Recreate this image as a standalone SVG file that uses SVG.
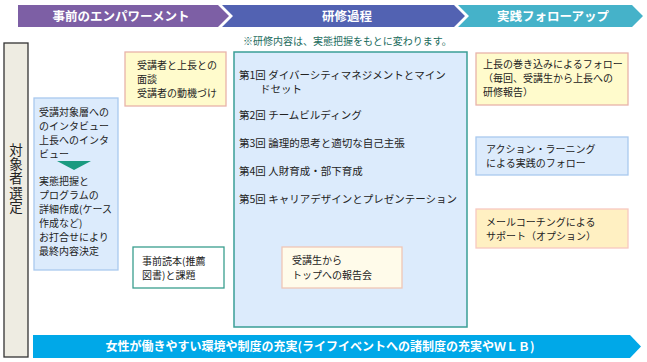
<svg xmlns="http://www.w3.org/2000/svg" width="647" height="362" viewBox="0 0 647 362">
<style>
text{font-family:"Noto Sans CJK JP","Noto Sans CJK SC",sans-serif;fill:#222;}
.hd{font-size:12.5px;font-weight:bold;fill:#fff;text-anchor:middle;}
.b{font-size:10.5px;}
.s{font-size:10px;}
.note{font-size:10px;fill:#1a6b5c;}
.yel{fill:#fffbcc;stroke:#e9b3aa;stroke-width:1.3;}
.blu{fill:#dcebfc;stroke:#a9c9ef;stroke-width:1.3;}
</style>
<rect width="647" height="362" fill="#fff"/>
<g id="header">
<polygon points="18,5 218,5 229,16 218,27 18,27" fill="#7d5fa5"/>
<polygon points="222,5 454,5 465,16 454,27 222,27 233,16" fill="#5262b2"/>
<polygon points="458,5 632,5 643,16 632,27 458,27 469,16" fill="#45b2c9"/>
<text class="hd" x="121" y="20.5">事前のエンパワーメント</text>
<text class="hd" x="347" y="20.5">研修過程</text>
<text class="hd" x="553" y="20.5">実践フォローアップ</text>
</g>
<text class="note" x="243" y="44.5">※研修内容は、実態把握をもとに変わります。</text>
<g id="target">
<rect x="4" y="43" width="24" height="314" fill="#eeece2" stroke="#333" stroke-width="1.3"/>
<text x="16" y="143" style="font-size:13.5px;writing-mode:vertical-rl;letter-spacing:0.8px">対象者選定</text>
</g>
<g id="survey">
<rect class="blu" x="34" y="98" width="84" height="172"/>
<text class="s" x="39" y="116">受講対象層への</text>
<text class="s" x="39" y="130">のインタビュー</text>
<text class="s" x="39" y="144">上長へのインタ</text>
<text class="s" x="39" y="158">ビュー</text>
<polygon points="57,161 91,161 74,170" fill="#1a9a80"/>
<text class="s" x="39" y="185">実態把握と</text>
<text class="s" x="39" y="199">プログラムの</text>
<text class="s" x="39" y="213">詳細作成(ケース</text>
<text class="s" x="39" y="227">作成など)</text>
<text class="s" x="39" y="241">お打合せにより</text>
<text class="s" x="39" y="255">最終内容決定</text>
</g>
<g id="interview">
<rect class="yel" x="125" y="52" width="101" height="54"/>
<text class="s" x="137" y="69">受講者と上長との</text>
<text class="s" x="137" y="83">面談</text>
<text class="s" x="137" y="97">受講者の動機づけ</text>
</g>
<g id="reading">
<rect x="133" y="247" width="91" height="41" fill="#fff" stroke="#3a9e8e" stroke-width="1.3"/>
<text class="s" x="142" y="265">事前読本(推薦</text>
<text class="s" x="142" y="279">図書)と課題</text>
</g>
<g id="training">
<rect x="234" y="52" width="233" height="275" fill="#dcebfc" stroke="#3a9e96" stroke-width="1.5"/>
<text class="b" x="239" y="79">第1回 ダイバーシティマネジメントとマイン</text>
<text class="b" x="260" y="93">ドセット</text>
<text class="b" x="239" y="119">第2回 チームビルディング</text>
<text class="b" x="239" y="147">第3回 論理的思考と適切な自己主張</text>
<text class="b" x="239" y="175">第4回 人財育成・部下育成</text>
<text class="b" x="239" y="203">第5回 キャリアデザインとプレゼンテーション</text>
</g>
<g id="report">
<rect x="282" y="247" width="120" height="41" fill="#fffbea" stroke="#f0c6b6" stroke-width="1.3"/>
<text class="s" x="292" y="264">受講生から</text>
<text class="s" x="292" y="279">トップへの報告会</text>
</g>
<g id="follow1">
<rect class="yel" x="476" y="53" width="152" height="52"/>
<text class="s" x="483" y="68">上長の巻き込みによるフォロー</text>
<text class="s" x="483" y="82">（毎回、受講生から上長への</text>
<text class="s" x="483" y="96">研修報告）</text>
</g>
<g id="follow2">
<rect class="blu" x="476" y="137" width="152" height="38"/>
<text class="s" x="486" y="153">アクション・ラーニング</text>
<text class="s" x="486" y="167">による実践のフォロー</text>
</g>
<g id="follow3">
<rect x="476" y="209" width="152" height="39" fill="#fff0c2" stroke="#f7c8c0" stroke-width="1.3"/>
<text class="s" x="486" y="226">メールコーチングによる</text>
<text class="s" x="486" y="240">サポート（オプション）</text>
</g>
<g id="connectors"></g>
<g id="bottom">
<polygon points="33,335 630,335 641,346.5 630,358 33,358" fill="#00a8e8"/>
<text x="320" y="351" text-anchor="middle" style="font-size:12px;font-weight:bold;fill:#fff">女性が働きやすい環境や制度の充実(ライフイベントへの諸制度の充実やＷＬＢ)</text>
</g>
</svg>
